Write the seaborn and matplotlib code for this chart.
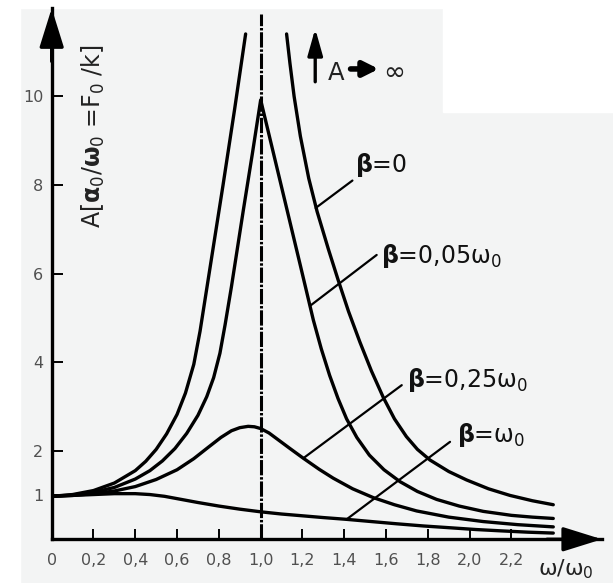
import numpy as np
import pandas as pd
import matplotlib
matplotlib.use('Agg')
import matplotlib.pyplot as plt
from matplotlib.patches import Rectangle
import seaborn as sns

# curves: x = omega/omega0, y = A
b0_left_x = [0, 0.1, 0.2, 0.3, 0.4, 0.45, 0.5, 0.55, 0.6, 0.64, 0.68, 0.71, 0.74, 0.78, 0.82, 0.875, 0.928]
b0_left_y = [0.97, 1.01, 1.1, 1.27, 1.55, 1.76, 2.03, 2.38, 2.82, 3.3, 3.95, 4.7, 5.6, 6.8, 8.0, 9.7, 11.41]
b0_right_x = [1.124, 1.14, 1.16, 1.19, 1.23, 1.27, 1.324, 1.371, 1.42, 1.475, 1.53, 1.587, 1.64, 1.697,
              1.75, 1.81, 1.9, 1.985, 2.09, 2.193, 2.3, 2.4]
b0_right_y = [11.41, 10.75, 10.0, 9.1, 8.15, 7.4, 6.55, 5.85, 5.15, 4.45, 3.8, 3.2, 2.72, 2.32,
              2.03, 1.79, 1.53, 1.34, 1.14, 0.99, 0.87, 0.78]

b005_x = [0, 0.1, 0.2, 0.3, 0.4, 0.47, 0.53, 0.59, 0.646, 0.7, 0.742, 0.775, 0.805, 0.83, 0.86,
          0.917, 0.96, 1.0, 1.06, 1.124, 1.19, 1.252, 1.29, 1.33, 1.37, 1.411, 1.46, 1.52, 1.59,
          1.667, 1.75, 1.842, 1.95, 2.065, 2.2, 2.3, 2.4]
b005_y = [0.97, 1.0, 1.06, 1.17, 1.36, 1.55, 1.77, 2.05, 2.39, 2.8, 3.22, 3.65, 4.2, 4.85, 5.7,
          7.43, 8.7, 9.92, 8.74, 7.48, 6.18, 4.95, 4.3, 3.7, 3.18, 2.72, 2.3, 1.9, 1.57,
          1.3, 1.08, 0.9, 0.75, 0.63, 0.54, 0.5, 0.47]

b025_x = [0, 0.1, 0.2, 0.3, 0.4, 0.5, 0.6, 0.68, 0.75, 0.81, 0.86, 0.9, 0.94, 0.97, 1.0, 1.04,
          1.08, 1.14, 1.204, 1.28, 1.347, 1.44, 1.539, 1.64, 1.746, 1.9, 2.065, 2.23, 2.4]
b025_y = [0.97, 0.99, 1.03, 1.09, 1.19, 1.35, 1.57, 1.82, 2.08, 2.3, 2.45, 2.52, 2.55, 2.54, 2.5,
          2.4, 2.26, 2.05, 1.83, 1.58, 1.38, 1.14, 0.94, 0.78, 0.64, 0.5, 0.4, 0.33, 0.28]

b1_x = [0, 0.1, 0.2, 0.3, 0.4, 0.47, 0.54, 0.62, 0.7, 0.8, 0.9, 1.0, 1.1, 1.2, 1.3, 1.411, 1.53,
        1.65, 1.78, 1.906, 2.03, 2.15, 2.28, 2.4]
b1_y = [0.97, 0.99, 1.01, 1.03, 1.03, 1.01, 0.97, 0.9, 0.83, 0.75, 0.68, 0.62, 0.57, 0.53, 0.49,
        0.45, 0.4, 0.35, 0.3, 0.26, 0.22, 0.19, 0.16, 0.14]

x_ticks = [0, 0.2, 0.4, 0.6, 0.8, 1.0, 1.2, 1.4, 1.6, 1.8, 2.0, 2.2]
x_tick_labels = ['0', '0,2', '0,4', '0,6', '0,8', '1,0', '1,2', '1,4', '1,6', '1,8', '2,0', '2,2']
y_ticks = [1, 2, 4, 6, 8, 10]
y_tick_labels = ['1', '2', '4', '6', '8', '10']

# labels: text, leader start (on curve), leader end, text position (left, baseline)
labels = [
    (r'$\mathbf{β}$=0', (1.263, 7.48), (1.439, 8.10), (1.451, 8.30)),
    (r'$\mathbf{β}$=0,05ω$_0$', (1.236, 5.27), (1.555, 6.42), (1.576, 6.23)),
    (r'$\mathbf{β}$=0,25ω$_0$', (1.204, 1.83), (1.675, 3.48), (1.699, 3.44)),
    (r'$\mathbf{β}$=ω$_0$', (1.411, 0.45), (1.906, 2.20), (1.938, 2.20)),
]

sns.set_style('ticks')
plt.rcParams['font.family'] = ['DejaVu Sans']
plt.rcParams['mathtext.fontset'] = 'dejavusans'

fig = plt.figure(figsize=(6.13, 5.83), dpi=100)
fig.patch.set_facecolor('#f3f4f4')
# white margins of the scanned picture
fig.add_artist(Rectangle((0.723, 0.808), 0.3, 0.2, transform=fig.transFigure, color='white', zorder=0))
fig.add_artist(Rectangle((0, 0), 0.033, 1, transform=fig.transFigure, color='white', zorder=0))
fig.add_artist(Rectangle((0, 0.987), 1, 0.02, transform=fig.transFigure, color='white', zorder=0))

ax = fig.add_axes([0.0843, 0.075, 0.8977, 0.9108])
ax.set_facecolor('none')

rows = []
for name, xs, ys in [('b0_left', b0_left_x, b0_left_y), ('b0_right', b0_right_x, b0_right_y),
                     ('b005', b005_x, b005_y), ('b025', b025_x, b025_y), ('b1', b1_x, b1_y)]:
    for xv, yv in zip(xs, ys):
        rows.append({'curve': name, 'x': xv, 'y': yv})
df = pd.DataFrame(rows)

sns.lineplot(data=df, x='x', y='y', units='curve', estimator=None, sort=False,
             color='black', linewidth=2.4, ax=ax, legend=False)
for ln in ax.lines:
    ln.set_solid_joinstyle('round')

# resonance line at omega = omega0
ax.vlines(1.0, 0, 11.85, color='black', linewidth=2.2, linestyles=[(0, (5, 0.6, 0.8, 0.6))])

ax.set_xlim(0, 2.633)
ax.set_ylim(0, 11.99)
ax.set_xlabel('')
ax.set_ylabel('')
sns.despine(ax=ax)
for side in ['left', 'bottom']:
    ax.spines[side].set_linewidth(2.4)
    ax.spines[side].set_color('black')

ax.set_xticks(x_ticks)
ax.set_xticklabels(x_tick_labels)
ax.set_yticks(y_ticks)
ax.set_yticklabels(y_tick_labels)
ax.tick_params(axis='x', direction='in', length=7, width=1.4, pad=10, labelsize=11.5,
               labelcolor='#505050', color='black')
ax.tick_params(axis='y', direction='in', length=8, width=1.4, pad=6, labelsize=11.5,
               labelcolor='#505050', color='black')

# axis arrowheads
head = dict(arrowstyle='-|>,head_length=2.4,head_width=0.75', mutation_scale=10, lw=2.4,
            color='black', shrinkA=0, shrinkB=0)
ax.annotate('', xy=(0, 1), xytext=(0, 0.9), xycoords='axes fraction', arrowprops=head,
            annotation_clip=False)
ax.annotate('', xy=(1, 0), xytext=(0.9, 0), xycoords='axes fraction', arrowprops=head,
            annotation_clip=False)

# curve labels with leader lines
for text, p0, p1, tp in labels:
    ax.plot([p0[0], p1[0]], [p0[1], p1[1]], color='black', linewidth=1.6)
    ax.text(tp[0], tp[1], text, fontsize=17, ha='left', va='baseline', color='#111111')

# A -> infinity
ax.annotate('', xy=(1.261, 11.53), xytext=(1.261, 10.33),
            arrowprops=dict(arrowstyle='-|>,head_length=1.6,head_width=0.45', mutation_scale=10,
                            lw=2.4, color='black', shrinkA=0, shrinkB=0))
ax.text(1.322, 10.37, 'A', fontsize=17.5, ha='left', va='baseline', color='#222222')
ax.annotate('', xy=(1.565, 10.62), xytext=(1.43, 10.62),
            arrowprops=dict(arrowstyle='-|>,head_length=0.9,head_width=0.45', mutation_scale=10,
                            lw=4, color='black', shrinkA=0, shrinkB=0))
ax.text(1.585, 10.37, '∞', fontsize=19, ha='left', va='baseline', color='#222222')

# axis titles
ax.text(0.2, 9.1, r'A[$\mathbf{α}_0$/$\mathbf{ω}_0$ =F$_0$ /k]', fontsize=17, rotation=90,
        ha='center', va='center', color='#222222')
ax.text(2.327, -0.67, r'ω/ω$_0$', fontsize=16, ha='left', va='center', color='#222222',
        clip_on=False)

fig.savefig('out.png', dpi=100, facecolor=fig.get_facecolor())
